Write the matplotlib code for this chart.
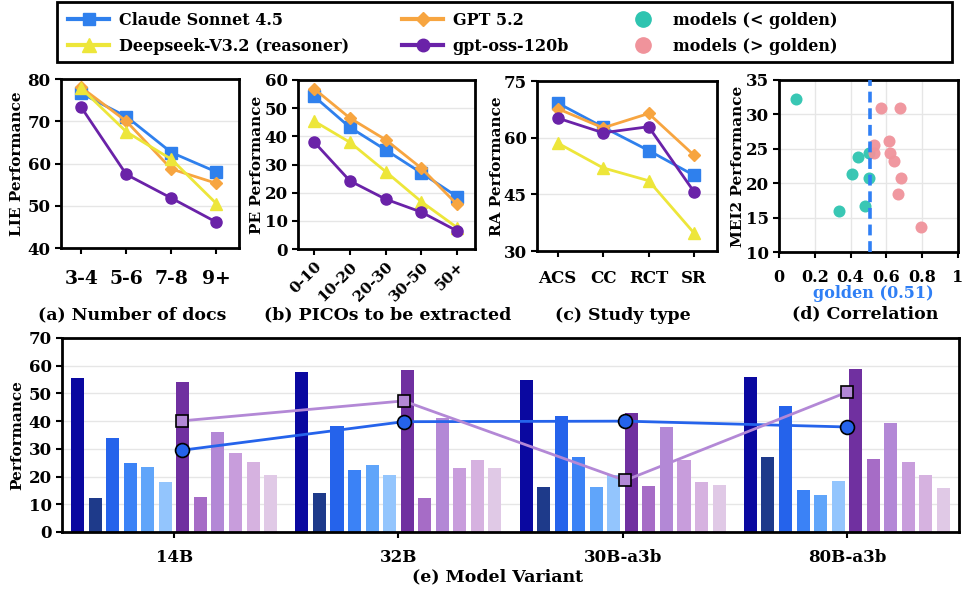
import numpy as np
import matplotlib
matplotlib.use('Agg')
import matplotlib.pyplot as plt
from matplotlib.lines import Line2D
from matplotlib.patches import Rectangle

plt.rcParams['font.family'] = 'DejaVu Serif'

# ---- data ----
docs_cats = ['3-4', '5-6', '7-8', '9+']
docs_claude = [76.6, 71.1, 62.6, 58.0]
docs_deepseek = [77.8, 67.5, 61.0, 50.5]
docs_gpt = [78.0, 70.0, 58.7, 55.3]
docs_oss = [73.3, 57.4, 51.8, 46.1]

pico_cats = ['0-10', '10-20', '20-30', '30-50', '50+']
pico_claude = [54.2, 43.2, 35.2, 27.0, 18.6]
pico_deepseek = [45.4, 37.9, 27.5, 16.8, 7.6]
pico_gpt = [56.9, 46.5, 38.8, 28.7, 15.8]
pico_oss = [38.0, 24.2, 17.7, 13.1, 6.4]

study_cats = ['ACS', 'CC', 'RCT', 'SR']
study_claude = [69.2, 62.8, 56.6, 50.0]
study_deepseek = [58.6, 52.0, 48.6, 34.7]
study_gpt = [67.7, 62.6, 66.4, 55.3]
study_oss = [65.2, 61.3, 62.9, 45.6]

golden = 0.51
low_x = [0.093, 0.441, 0.503, 0.410, 0.505, 0.333, 0.479]
low_y = [32.2, 23.8, 24.4, 21.4, 20.8, 16.0, 16.7]
high_x = [0.572, 0.678, 0.533, 0.616, 0.533, 0.620, 0.644, 0.680, 0.663, 0.791]
high_y = [31.0, 31.0, 25.6, 26.2, 24.4, 24.4, 23.2, 20.8, 18.4, 13.7]

variants = ['14B', '32B', '30B-a3b', '80B-a3b']
# 12 bars per variant: 6 blue shades then 6 purple shades
bar_vals = [
    [55.6, 12.4, 33.9, 25.0, 23.6, 18.2, 54.2, 12.7, 36.2, 28.6, 25.4, 20.7],
    [57.9, 14.2, 38.4, 22.5, 24.3, 20.7, 58.6, 12.4, 41.3, 23.2, 26.1, 23.2],
    [55.0, 16.2, 41.7, 27.0, 16.2, 20.5, 42.8, 16.6, 37.8, 25.9, 18.0, 17.0],
    [56.0, 27.0, 45.3, 15.2, 13.4, 18.4, 58.9, 26.3, 39.2, 25.2, 20.5, 15.9],
]
line_blue = [29.5, 39.8, 40.0, 37.9]
line_purple = [40.1, 47.3, 18.6, 50.4]

# ---- styles ----
c_claude, c_deep, c_gpt, c_oss = '#2f80ed', '#ede63a', '#f7a540', '#6a22a8'
c_low, c_high = '#2ec4b0', '#f0939b'
bar_colors = ['#0a08a0', '#1e3a8a', '#2563eb', '#3b82f6', '#60a5fa', '#93c5fd',
              '#7030a0', '#a66cc6', '#b388d6', '#c89ddc', '#d6b2e0', '#e0c9e6']

fig = plt.figure(figsize=(9.64, 5.95), dpi=100)
W, H = 964, 595


def add_ax(l, t, r, b):
    return fig.add_axes([l / W, 1 - b / H, (r - l) / W, (b - t) / H])


def style(ax, ylabel, label_x, grid_x=False):
    for s in ax.spines.values():
        s.set_linewidth(2.0)
    ax.tick_params(width=1.5, length=4)
    ax.tick_params(axis='y', labelsize=12)
    for lab in ax.get_yticklabels():
        lab.set_fontweight('bold')
    ax.grid(axis='y', color='#e6e6e6', lw=1)
    if grid_x:
        ax.grid(axis='x', color='#e6e6e6', lw=1)
    ax.set_axisbelow(True)
    ax.set_ylabel(ylabel, fontsize=11, fontweight='bold')
    ax.yaxis.set_label_coords(label_x, 0.5)


def lines4(ax, cats, cl, ds, gp, os_):
    x = np.arange(len(cats))
    ax.plot(x, cl, color=c_claude, marker='s', ms=8, lw=2)
    ax.plot(x, gp, color=c_gpt, marker='D', ms=6, lw=2)
    ax.plot(x, ds, color=c_deep, marker='^', ms=9, lw=2)
    ax.plot(x, os_, color=c_oss, marker='o', ms=8, lw=2)
    ax.set_xticks(x)
    ax.set_xlim(-0.45, len(cats) - 0.5)


# (a)
ax1 = add_ax(61, 79, 239, 248)
lines4(ax1, docs_cats, docs_claude, docs_deepseek, docs_gpt, docs_oss)
ax1.set_ylim(40, 80)
ax1.set_yticks([40, 50, 60, 70, 80])
ax1.set_xticklabels(docs_cats, fontsize=13.5, fontweight='bold')
ax1.tick_params(axis='x', pad=12)
style(ax1, 'LIE Performance', -0.208)

# (b)
ax2 = add_ax(298, 80, 475, 249)
lines4(ax2, pico_cats, pico_claude, pico_deepseek, pico_gpt, pico_oss)
ax2.set_ylim(0, 60)
ax2.set_yticks(range(0, 61, 10))
ax2.set_xticklabels(pico_cats, fontsize=11, fontweight='bold', rotation=45,
                    ha='right', rotation_mode='anchor')
style(ax2, 'PE Performance', -0.192)

# (c)
ax3 = add_ax(537, 81, 717, 251)
lines4(ax3, study_cats, study_claude, study_deepseek, study_gpt, study_oss)
ax3.set_ylim(30, 75)
ax3.set_yticks([30, 45, 60, 75])
ax3.set_xticklabels(study_cats, fontsize=12, fontweight='bold')
ax3.tick_params(axis='x', pad=10)
style(ax3, 'RA Performance', -0.183)

# (d)
ax4 = add_ax(779, 80, 958, 252)
ax4.scatter(low_x, low_y, s=75, color=c_low, alpha=0.95, lw=0, zorder=3)
ax4.scatter(high_x, high_y, s=75, color=c_high, alpha=0.95, lw=0, zorder=3)
ax4.axvline(golden, color='#2f7ff5', lw=2.6, ls=(0, (3, 1.6)), zorder=4)
ax4.set_xlim(0, 1)
ax4.set_ylim(10, 35)
ax4.set_xticks([0, 0.2, 0.4, 0.6, 0.8, 1])
ax4.set_xticklabels(['0', '0.2', '0.4', '0.6', '0.8', '1'], fontsize=11.5, fontweight='bold')
ax4.tick_params(axis='x', pad=8)
style(ax4, 'MEI2 Performance', -0.19, grid_x=True)
fig.text(873 / W, 1 - 293 / H, 'golden (0.51)', color='#2f7ff5', ha='center',
         va='center', fontsize=11.5, fontweight='bold')

# (e)
ax5 = add_ax(62, 338, 959, 532)
pitch = 0.0782
xg = np.arange(len(variants))
for g, vals in enumerate(bar_vals):
    for k, v in enumerate(vals):
        ax5.bar(xg[g] + (k - 5.5) * pitch, v, width=0.058, color=bar_colors[k], zorder=2)
lx = 0.035 + xg * 0.988
ax5.plot(lx, line_blue, color='#2563eb', lw=2, marker='o', ms=10, mfc='#2563eb',
         mec='black', mew=1.2, zorder=4)
ax5.plot(lx, line_purple, color='#b388d6', lw=2, marker='s', ms=9, mfc='#b388d6',
         mec='black', mew=1.2, zorder=4)
ax5.set_xlim(-0.5, 3.5)
ax5.set_ylim(0, 70)
ax5.set_yticks(range(0, 71, 10))
ax5.set_xticks(xg)
ax5.set_xticklabels(variants, fontsize=12, fontweight='bold')
ax5.tick_params(axis='x', pad=8)
style(ax5, 'Performance', -0.042)

# captions
cap = dict(ha='center', va='center', fontsize=12.5, fontweight='bold')
fig.text(132 / W, 1 - 315 / H, '(a) Number of docs', **cap)
fig.text(388 / W, 1 - 315 / H, '(b) PICOs to be extracted', **cap)
fig.text(623 / W, 1 - 315 / H, '(c) Study type', **cap)
fig.text(865 / W, 1 - 314 / H, '(d) Correlation', **cap)
fig.text(498 / W, 1 - 577 / H, '(e) Model Variant', **cap)

# legend (frame drawn separately to keep the wide box)
fig.patches.append(Rectangle((57 / W, 1 - 62 / H), 895 / W, 60 / H, transform=fig.transFigure,
                             fill=False, edgecolor='black', lw=2))
handles = [
    Line2D([], [], color=c_claude, marker='s', ms=8, lw=3),
    Line2D([], [], color=c_deep, marker='^', ms=10, lw=3),
    Line2D([], [], color=c_gpt, marker='D', ms=7, lw=3),
    Line2D([], [], color=c_oss, marker='o', ms=9, lw=3),
    Line2D([], [], color=c_low, marker='o', ms=11, lw=0),
    Line2D([], [], color=c_high, marker='o', ms=11, lw=0),
]
labels = ['Claude Sonnet 4.5', 'Deepseek-V3.2 (reasoner)', 'GPT 5.2', 'gpt-oss-120b',
          'models (< golden)', 'models (> golden)']
leg = fig.legend(handles, labels, ncol=3, loc='upper left',
                 bbox_to_anchor=(63 / W, 1 - 7 / H), borderaxespad=0, borderpad=0.3,
                 fontsize=11.5, frameon=False, handlelength=2.6, handletextpad=0.6,
                 labelspacing=0.55, columnspacing=3.3)
for t in leg.get_texts():
    t.set_fontweight('bold')

fig.savefig('out.png', dpi=100)
